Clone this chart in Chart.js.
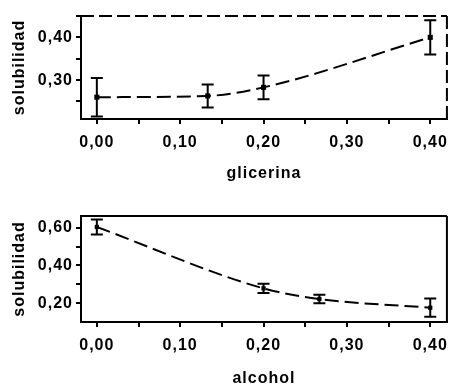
<!DOCTYPE html>
<html>
<head>
<meta charset="utf-8">
<script src="https://cdn.jsdelivr.net/npm/chart.js@4"></script>
<style>
  html, body { margin: 0; padding: 0; background: #fff; overflow: hidden; width: 457px; height: 385px; }
  #c1 { position: absolute; left: 0; top: 0; }
  #c2 { position: absolute; left: 0; top: 190px; }
</style>
</head>
<body>
<canvas id="c1" width="457" height="190"></canvas>
<canvas id="c2" width="457" height="200"></canvas>
<script>
// ---- data ----
const glicerinaX = [0.00, 0.133, 0.20, 0.40];
const glicerinaY = [0.260, 0.263, 0.283, 0.400];
const glicerinaErr = [0.045, 0.027, 0.028, 0.040];

const alcoholX = [0.00, 0.20, 0.267, 0.40];
const alcoholY = [0.603, 0.279, 0.223, 0.177];
const alcoholErr = [0.040, 0.025, 0.023, 0.048];

const xTickValues = [0.00, 0.05, 0.10, 0.15, 0.20, 0.25, 0.30, 0.35, 0.40];
const xTickLabels = ['0,00', '', '0,10', '', '0,20', '', '0,30', '', '0,40'];

const y1TickValues = [0.25, 0.30, 0.35, 0.40, 0.45];
const y1TickLabels = ['', '0,30', '', '0,40', ''];

const y2TickValues = [0.20, 0.30, 0.40, 0.50, 0.60];
const y2TickLabels = ['0,20', '', '0,40', '', '0,60'];

const FONT = { family: 'Liberation Sans, Arial, sans-serif', size: 16, weight: 'bold' };

const letterSpacingPlugin = {
  id: 'ls',
  beforeInit(chart) { chart.ctx.letterSpacing = '1px'; },
  beforeUpdate(chart) { chart.ctx.letterSpacing = '1px'; },
  beforeDraw(chart) { chart.ctx.letterSpacing = '1px'; }
};

function errorBarPlugin(xs, ys, errs) {
  return {
    id: 'errbars',
    afterDatasetsDraw(chart) {
      const ctx = chart.ctx;
      const xs_ = chart.scales.x, ys_ = chart.scales.y;
      ctx.save();
      ctx.strokeStyle = '#000';
      ctx.lineWidth = 2;
      ctx.setLineDash([]);
      const cap = 6;
      for (let i = 0; i < xs.length; i++) {
        const px = xs_.getPixelForValue(xs[i]);
        const top = ys_.getPixelForValue(ys[i] + errs[i]);
        const bot = ys_.getPixelForValue(ys[i] - errs[i]);
        ctx.beginPath();
        ctx.moveTo(px, top); ctx.lineTo(px, bot);
        ctx.moveTo(px - cap, top); ctx.lineTo(px + cap, top);
        ctx.moveTo(px - cap, bot); ctx.lineTo(px + cap, bot);
        ctx.stroke();
      }
      ctx.restore();
    }
  };
}

function framePlugin(dashed) {
  return {
    id: 'frame',
    afterDraw(chart) {
      const a = chart.chartArea;
      const ctx = chart.ctx;
      ctx.save();
      ctx.strokeStyle = '#000';
      ctx.lineWidth = 2;
      ctx.setLineDash(dashed ? [13, 5] : []);
      ctx.beginPath();
      ctx.moveTo(a.left, a.top); ctx.lineTo(a.right, a.top);
      ctx.moveTo(a.right, a.top); ctx.lineTo(a.right, a.bottom);
      ctx.stroke();
      ctx.restore();
    }
  };
}

function makeChart(id, xs, ys, errs, opts) {
  const points = xs.map((x, i) => ({ x: x, y: ys[i] }));
  return new Chart(document.getElementById(id), {
    type: 'line',
    data: {
      datasets: [{
        data: points,
        borderColor: '#000',
        backgroundColor: '#000',
        borderWidth: 2,
        borderDash: [14, 6],
        cubicInterpolationMode: 'monotone',
        pointStyle: 'rect',
        pointRadius: opts.pointRadius,
        pointBorderWidth: 0,
        fill: false
      }]
    },
    options: {
      responsive: false,
      animation: false,
      devicePixelRatio: 1,
      layout: { padding: { top: opts.padTop, right: 3, left: 0, bottom: 0 } },
      plugins: { legend: { display: false }, tooltip: { enabled: false } },
      scales: {
        x: {
          type: 'linear',
          min: -0.019, max: 0.42,
          afterFit(s) { s.height = opts.xAxisHeight; },
          afterBuildTicks(s) { s.ticks = xTickValues.map(v => ({ value: v })); },
          ticks: {
            autoSkip: false, maxRotation: 0, color: '#000', font: FONT, padding: 9,
            callback: (v, i) => xTickLabels[i]
          },
          grid: { display: true, drawOnChartArea: false, drawTicks: true, tickLength: 5, color: '#000', lineWidth: 2 },
          border: { display: true, color: '#000', width: 2 },
          title: { display: true, text: opts.xTitle, color: '#000', font: FONT, padding: { top: 0, bottom: opts.xTitlePad } }
        },
        y: {
          type: 'linear',
          min: opts.yMin, max: opts.yMax,
          afterFit(s) { s.width = 81; },
          afterBuildTicks(s) { s.ticks = opts.yTicks.map(v => ({ value: v })); },
          ticks: {
            autoSkip: false, color: '#000', font: FONT, padding: 3,
            callback: (v, i) => opts.yLabels[i]
          },
          grid: { display: true, drawOnChartArea: false, drawTicks: true, tickLength: 5, color: '#000', lineWidth: 2 },
          border: { display: true, color: '#000', width: 2 },
          title: { display: true, text: 'solubilidad', color: '#000', font: FONT, padding: { top: 10, bottom: 0 } }
        }
      }
    },
    plugins: [letterSpacingPlugin, errorBarPlugin(xs, ys, errs), framePlugin(opts.dashed)]
  });
}

makeChart('c1', glicerinaX, glicerinaY, glicerinaErr, {
  padTop: 16, xAxisHeight: 71, xTitle: 'glicerina', xTitlePad: 7,
  yMin: 0.209, yMax: 0.45, yTicks: y1TickValues, yLabels: y1TickLabels,
  dashed: true, pointRadius: 3.6
});

makeChart('c2', alcoholX, alcoholY, alcoholErr, {
  padTop: 26, xAxisHeight: 68, xTitle: 'alcohol', xTitlePad: 2,
  yMin: 0.1016, yMax: 0.661, yTicks: y2TickValues, yLabels: y2TickLabels,
  dashed: false, pointRadius: 3
});
</script>
</body>
</html>
